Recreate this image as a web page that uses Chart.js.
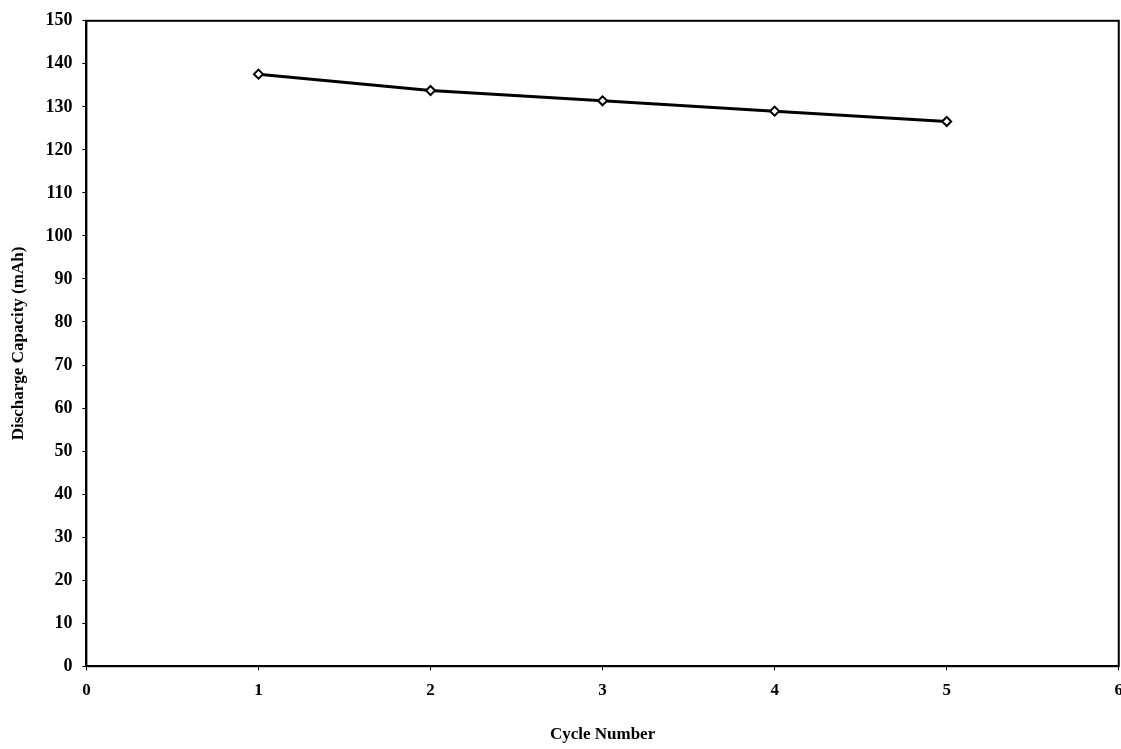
<!DOCTYPE html>
<html>
<head>
<meta charset="utf-8">
<script src="https://cdn.jsdelivr.net/npm/chart.js@4"></script>
<style>
  html, body { margin: 0; padding: 0; background: #fff; overflow: hidden; }
  #wrap { width: 1133px; height: 749px; }
</style>
</head>
<body>
<div id="wrap"><canvas id="chart" width="1133" height="749"></canvas></div>
<script>
const cycles = [1, 2, 3, 4, 5];
const capacity = [137.6, 133.8, 131.4, 129.0, 126.6];
const xTicks = [0, 1, 2, 3, 4, 5, 6];
const yTicks = [0, 10, 20, 30, 40, 50, 60, 70, 80, 90, 100, 110, 120, 130, 140, 150];

const serif = '"Liberation Serif", "DejaVu Serif", serif';

// frame round the plot area (top and right edges too)
const frame = {
    id: 'frame',
    afterDraw(chart) {
        const { ctx, chartArea: a } = chart;
        ctx.save();
        ctx.strokeStyle = '#000';
        ctx.lineWidth = 2;
        ctx.strokeRect(a.left, a.top, a.right - a.left, a.bottom - a.top);
        ctx.restore();
    }
};

new Chart(document.getElementById('chart'), {
    type: 'line',
    data: {
        datasets: [{
            data: cycles.map((c, i) => ({ x: c, y: capacity[i] })),
            borderColor: '#000',
            borderWidth: 3,
            pointStyle: 'rectRot',
            pointRadius: 4.5,
            pointBorderWidth: 2,
            pointBackgroundColor: '#fff',
            pointBorderColor: '#000',
            tension: 0
        }]
    },
    options: {
        responsive: false,
        animation: false,
        layout: { padding: { top: 6, left: 8, right: 0, bottom: 4 } },
        plugins: { legend: { display: false }, tooltip: { enabled: false } },
        scales: {
            x: {
                type: 'linear',
                min: 0, max: 6,
                afterBuildTicks: s => { s.ticks = xTicks.map(v => ({ value: v })); },
                ticks: { color: '#000', font: { family: serif, size: 17, weight: 'bold' }, padding: 10 },
                grid: { display: true, drawOnChartArea: false, color: '#000', tickLength: 4 },
                border: { display: true, color: '#000', width: 2 },
                title: { display: true, text: 'Cycle Number', color: '#000', font: { family: serif, size: 17, weight: 'bold' }, padding: { top: 14, bottom: 0 } }
            },
            y: {
                min: 0, max: 150,
                afterBuildTicks: s => { s.ticks = yTicks.map(v => ({ value: v })); },
                ticks: { color: '#000', font: { family: serif, size: 18, weight: 'bold' }, padding: 10 },
                grid: { display: true, drawOnChartArea: false, color: '#000', tickLength: 4 },
                border: { display: true, color: '#000', width: 2 },
                title: { display: true, text: 'Discharge Capacity (mAh)', color: '#000', font: { family: serif, size: 17, weight: 'bold' }, padding: { top: 0, bottom: 7 } }
            }
        }
    },
    plugins: [frame]
});
</script>
</body>
</html>
